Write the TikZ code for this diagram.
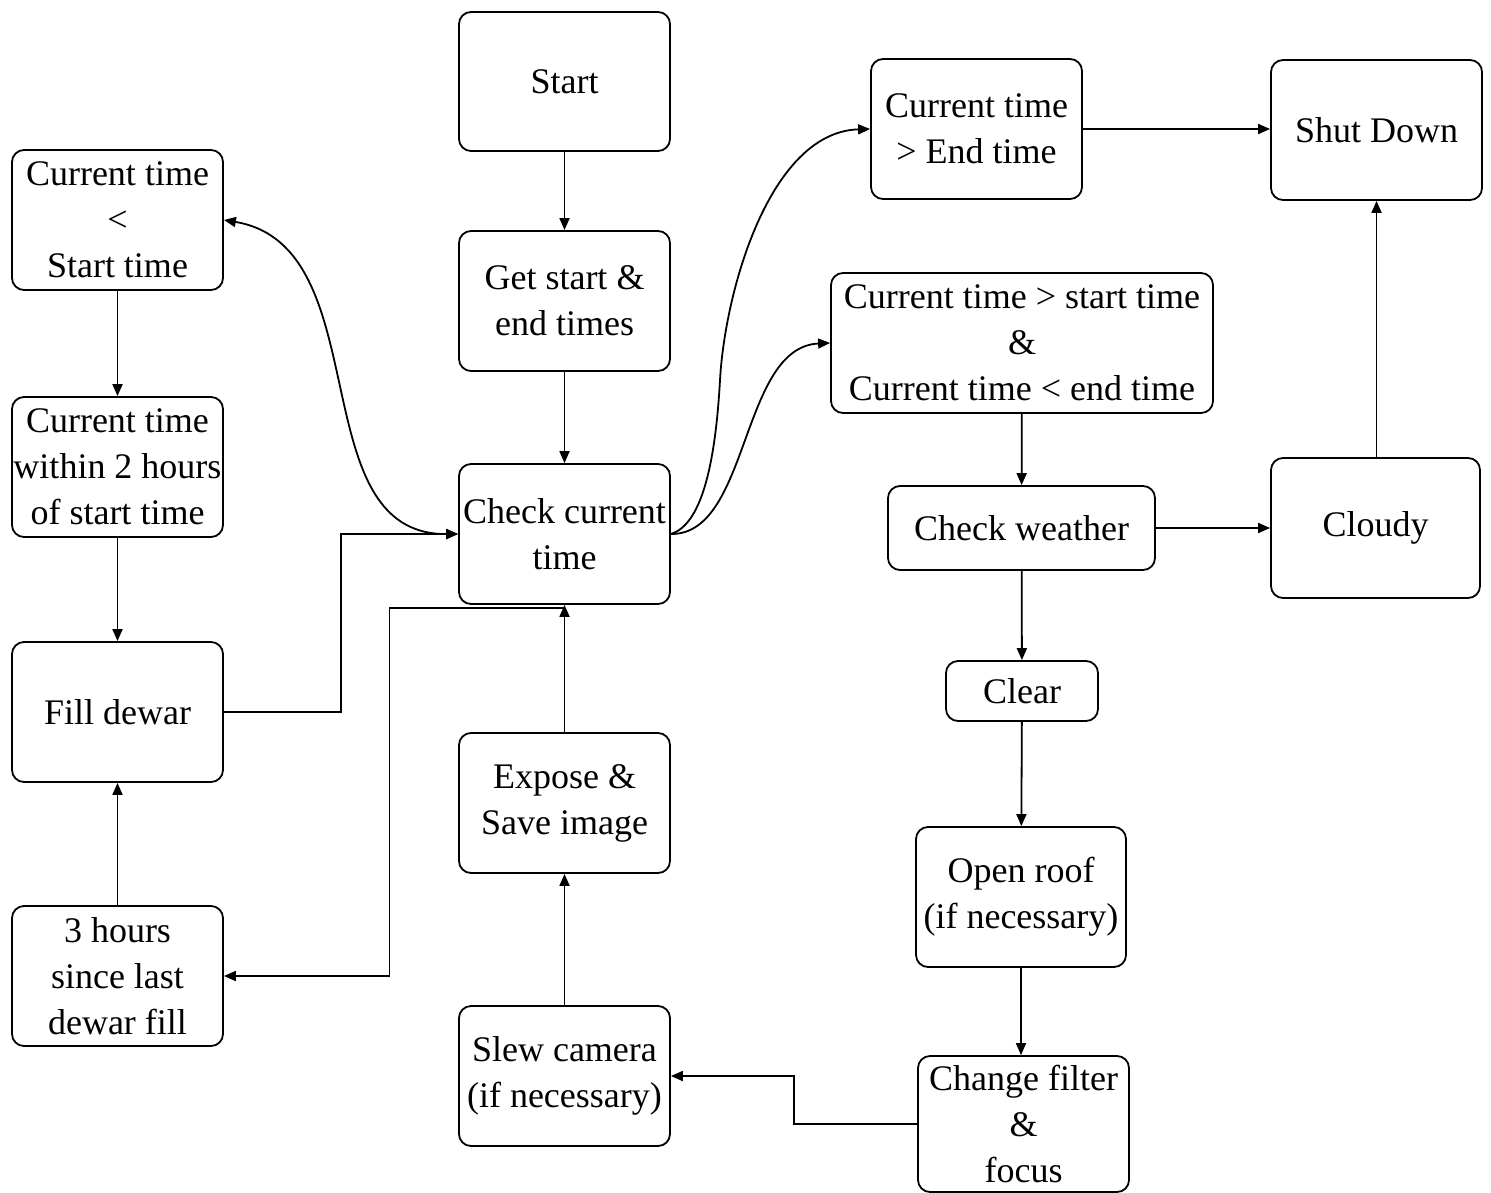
\documentclass[tikz,border=0pt]{standalone}
\usepackage{fontspec}
\setmainfont{Liberation Serif}
\usetikzlibrary{arrows.meta}
\tikzset{
  box/.style={draw, line width=0.9pt, rounded corners=6pt, inner sep=0pt, align=center,
    font=\fontsize{18}{23}\selectfont},
  arr/.style={draw, line width=0.9pt, -{Triangle[length=6pt,width=5pt]}},
  darr/.style={draw, line width=0.9pt, {Triangle[length=6pt,width=5pt]}-{Triangle[length=6pt,width=5pt]}},
  plain/.style={draw, line width=0.9pt}
}
\begin{document}
\begin{tikzpicture}[x=0.5pt,y=-0.5pt]
\useasboundingbox (0,0) rectangle (1491,1192);
% centre column
\node[box, minimum width=105.5pt, minimum height=69.5pt] (start) at (564.5,81.5) {Start};
\node[box, minimum width=105.5pt, minimum height=70pt] (getst) at (564.5,301) {Get start \&\\end times};
\node[box, minimum width=105.5pt, minimum height=70pt] (check) at (564.5,534) {Check current\\time};
\node[box, minimum width=105.5pt, minimum height=70pt] (expose) at (564.5,803) {Expose \&\\Save image};
\node[box, minimum width=105.5pt, minimum height=70pt] (slew) at (564.5,1076) {Slew camera\\(if necessary)};
% left column
\node[box, minimum width=105.5pt, minimum height=70pt] (lt) at (117.5,220) {Current time\\<\\Start time};
\node[box, minimum width=105.5pt, minimum height=70pt] (within) at (117.5,467) {Current time\\within 2 hours\\of start time};
\node[box, minimum width=105.5pt, minimum height=70pt] (fill) at (117.5,712) {Fill dewar};
\node[box, minimum width=105.5pt, minimum height=70pt] (hours) at (117.5,976) {3 hours\\since last\\dewar fill};
% right part
\node[box, minimum width=105.5pt, minimum height=70pt] (gtend) at (976.5,129) {Current time\\> End time};
\node[box, minimum width=105.5pt, minimum height=70pt] (shut) at (1376.5,130) {Shut Down};
\node[box, minimum width=191pt, minimum height=70pt] (between) at (1022,343) {Current time > start time\\\&\\Current time < end time};
\node[box, minimum width=133.5pt, minimum height=42pt] (weather) at (1021.5,528) {Check weather};
\node[box, minimum width=104.5pt, minimum height=70pt] (cloudy) at (1375.5,528) {Cloudy};
\node[box, minimum width=76pt, minimum height=30pt] (clear) at (1022,691) {Clear};
\node[box, minimum width=105pt, minimum height=70pt] (roof) at (1021,897) {Open roof\\(if necessary)};
\node[box, minimum width=105.5pt, minimum height=68pt] (change) at (1023.5,1124) {Change filter\\\&\\focus};
% connectors centre
\draw[arr] (start) -- (getst);
\draw[arr] (getst) -- (check);
\draw[arr] (expose) -- (check);
\draw[arr] (slew) -- (expose);
% left
\draw[arr] (lt) -- (within);
\draw[arr] (within) -- (fill);
\draw[arr] (hours) -- (fill);
\draw[arr] (fill.east) -- ++(117,0) |- (check.west);
\draw[arr] ([yshift=-1.5pt]check.south) -- ++(-175,0) |- (hours.east);
\draw[darr] (lt.east) .. controls (380,246) and (300,535) .. (check.west);
% right
\coordinate (bmid) at (720,380);
\draw[arr] (check.east) .. controls (700,525) and (715,470) .. (bmid)
  .. controls (725,290) and (770,132) .. (gtend.west);
\draw[arr] (check.east) .. controls (750,535) and (740,347) .. (between.west);
\draw[arr] (gtend.east) -- (gtend.east -| shut.west);
\draw[arr] (between) -- (weather);
\draw[arr] (weather) -- (clear);
\draw[arr] (clear) -- (roof);
\draw[arr] (roof) -- (roof.south |- change.north);
\draw[arr] (weather) -- (cloudy);
\draw[arr] (cloudy.north -| shut.south) -- (shut.south);
\draw[arr] (change.west) -- ++(-123,0) |- (slew.east);
\end{tikzpicture}
\end{document}
